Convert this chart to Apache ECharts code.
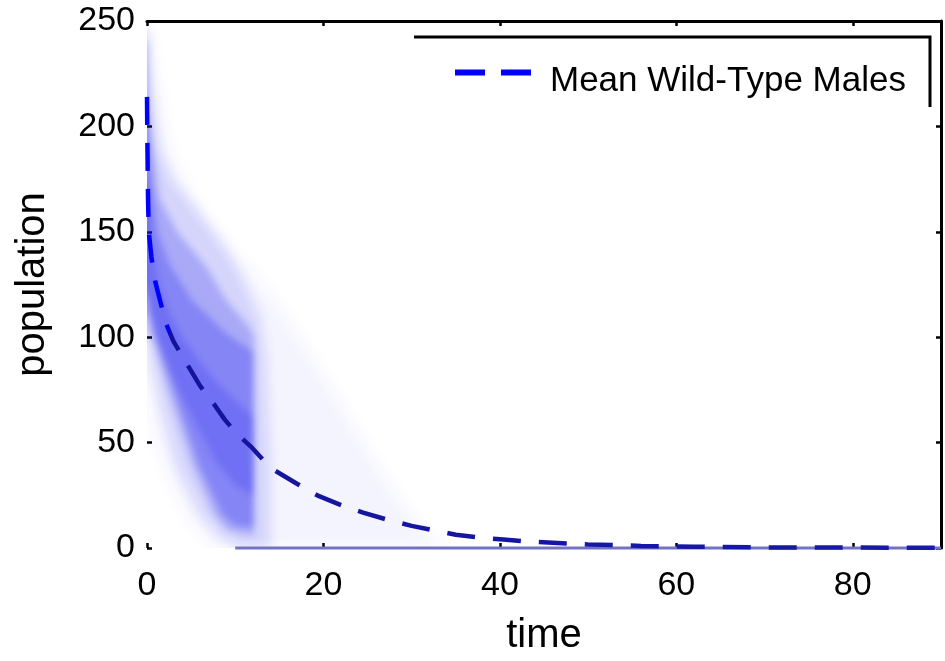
<!DOCTYPE html>
<html>
<head>
<meta charset="utf-8">
<script src="https://cdn.jsdelivr.net/npm/echarts@6/dist/echarts.min.js"></script>
<style>
html,body{margin:0;padding:0;background:#fff;}
#chart{width:945px;height:661px;}
</style>
</head>
<body>
<div id="chart"></div>
<script>
// ---- axis ticks ----
var X_MIN = 0, X_MAX = 90, X_STEP = 20;
var Y_MIN = 0, Y_MAX = 250, Y_STEP = 50;

// ---- mean wild-type males (time, population) ----
var MEAN_T = [0, 0.05, 0.12, 0.2, 0.5, 0.9, 1.5, 2.2, 3, 4, 5, 6, 7.3, 8.8, 10, 11.8, 14, 17, 19.3, 22.2, 24.5, 27.6, 30, 33, 35, 38, 40.4, 43.4, 50, 56, 62, 70, 80, 90];
var MEAN_Y = [214, 190, 165, 150, 138, 127, 117, 106, 98, 91, 84, 77, 70, 61, 55, 48, 38, 30.5, 25, 20, 16.8, 13, 10.5, 8, 6.3, 4.8, 4, 3, 1.7, 1, 0.6, 0.3, 0.2, 0.1];

// ---- runs that have gone extinct (population 0) ----
var ZERO_T = [10, 90];
var ZERO_Y = [0, 0];

// ---- spread of the simulated runs: upper / lower edges of each density level ----
var L1_HIGH = [[0,250],[0.5,238],[1,225],[2,200],[3,184],[5,168],[7,155],[10,140],[12,131],[14,120],[16,108],[18,95],[20,82],[22,68],[24,54],[26,40],[28,27],[30,15],[32,6],[34,0]];
var L1_LOW  = [[0,80],[0.5,60],[1.5,45],[3,28],[5,12],[7,3],[8,0],[34,0]];
var L2_HIGH = [[0,246],[0.4,222],[1.4,190],[3,174],[5,164],[7.6,150],[10,135],[11.7,120],[12.8,110],[13.5,90],[14,40],[14,0]];
var L2_LOW  = [[0,100],[1.3,71],[3.3,39],[6,16],[8,6],[9.5,2],[10.5,0],[14,0]];
var L3_HIGH = [[0,240],[0.3,202],[1.4,166],[3.4,150],[5,142],[6.8,133],[8.9,118],[11.7,104],[12.1,100],[12.1,6]];
var L3_LOW  = [[0,110],[0.4,102],[2.7,71],[5.2,39],[7.6,16],[9,9],[10.5,7],[12.1,6]];
var L4_HIGH = [[0,205],[0.5,175],[1.2,150],[2.5,135],[5,118],[8.9,102],[12,93],[12.1,10]];
var L4_LOW  = [[0,120],[0.9,102],[3.4,71],[6,39],[8.6,16],[10,11],[12.1,10]];
var L5_HIGH = [[0,175],[0.5,145],[1.2,128],[2.5,112],[4,100],[6,88],[8,78],[10,70],[12,62]];
var L5_LOW  = [[0,125],[0.5,112],[1.2,100],[2.5,86],[4,72],[6,56],[8,40],[10,30],[12,25]];

var LEVELS = [
  {high: L1_HIGH, low: L1_LOW, alpha: 0.05, blur: 16},
  {high: L2_HIGH, low: L2_LOW, alpha: 0.14, blur: 12},
  {high: L3_HIGH, low: L3_LOW, alpha: 0.24, blur: 7},
  {high: L4_HIGH, low: L4_LOW, alpha: 0.26, blur: 6},
  {high: L5_HIGH, low: L5_LOW, alpha: 0.2, blur: 6}
];

function zip(a, b) { return a.map(function (v, i) { return [v, b[i]]; }); }

var FONT = "'Liberation Sans', Arial, Helvetica, sans-serif";
var SHIFT = 4000; // shapes are painted off-canvas; only their soft shadow lands in the plot
var EDGE_PAD = 24; // px the blurred shapes run past the left frame (clipped there)
var chart = echarts.init(document.getElementById('chart'), null, {renderer: 'canvas'});

var axisCommon = {
  type: 'value',
  splitLine: {show: false},
  axisTick: {show: true, inside: true, length: 5, lineStyle: {color: '#000', width: 2.5}},
  axisLabel: {color: '#000', fontSize: 34, fontFamily: FONT}
};

chart.setOption({
  animation: false,
  backgroundColor: '#fff',
  grid: {left: 147, right: 4, top: 21, bottom: 111, containLabel: false},
  xAxis: [
    Object.assign({}, axisCommon, {
      min: X_MIN, max: X_MAX, interval: X_STEP, position: 'bottom',
      axisLine: {show: false, onZero: false},
      axisLabel: Object.assign({}, axisCommon.axisLabel, {margin: 21, showMaxLabel: false}),
      name: 'time', nameLocation: 'middle', nameGap: 68,
      nameTextStyle: {color: '#000', fontSize: 40, fontFamily: FONT}
    }),
    Object.assign({}, axisCommon, {
      min: X_MIN, max: X_MAX, interval: X_STEP, position: 'top',
      axisLine: {show: true, onZero: false, lineStyle: {color: '#000', width: 3}},
      axisLabel: {show: false}
    })
  ],
  yAxis: [
    Object.assign({}, axisCommon, {
      min: Y_MIN, max: Y_MAX, interval: Y_STEP, position: 'left',
      axisLine: {show: false, onZero: false},
      axisLabel: Object.assign({}, axisCommon.axisLabel, {margin: 12, padding: [6, 0, 0, 0]}),
      name: 'population', nameLocation: 'middle', nameGap: 94,
      nameTextStyle: {color: '#000', fontSize: 40, fontFamily: FONT}
    }),
    Object.assign({}, axisCommon, {
      min: Y_MIN, max: Y_MAX, interval: Y_STEP, position: 'right',
      axisLine: {show: true, onZero: false, lineStyle: {color: '#000', width: 3}},
      axisLabel: {show: false}
    })
  ],
  legend: {
    data: [{
      name: 'Mean Wild-Type Males',
      lineStyle: {color: '#0000ff', width: 6, type: [30, 16]},
      itemStyle: {color: 'rgba(0,0,0,0)', borderWidth: 0, opacity: 0}
    }],
    left: 452, top: 64, padding: 0,
    itemWidth: 76, itemHeight: 14,
    selectedMode: false,
    formatter: '{t|{name}}',
    textStyle: {
      color: '#000', fontSize: 35, fontFamily: FONT,
      rich: {t: {color: '#000', fontSize: 35, fontFamily: FONT, padding: [18, 0, 0, 14]}}
    }
  },
  graphic: [
    {type: 'polyline', silent: true, z: 100,
     shape: {points: [[414, 37], [930, 37], [930, 107]]},
     style: {stroke: '#000', lineWidth: 3, fill: null}}
  ],
  series: [
    {
      type: 'custom', name: 'runs', silent: true, z: 1, clip: true,
      xAxisIndex: 0, yAxisIndex: 0,
      data: LEVELS.map(function () { return [0, 0]; }),
      renderItem: function (params, api) {
        var lv = LEVELS[params.dataIndex];
        var up = lv.high.map(function (d) { return api.coord(d); });
        var lo = lv.low.map(function (d) { return api.coord(d); }).reverse();
        var pts = [[up[0][0] - EDGE_PAD, up[0][1]]].concat(up, lo, [[lo[lo.length - 1][0] - EDGE_PAD, lo[lo.length - 1][1]]]);
        pts = pts.map(function (p) { return [p[0] + SHIFT, p[1]]; });
        return {
          type: 'polygon', shape: {points: pts},
          style: {
            fill: 'rgb(30,30,240)', stroke: null,
            shadowColor: 'rgba(30,30,240,' + lv.alpha + ')',
            shadowBlur: lv.blur, shadowOffsetX: -SHIFT, shadowOffsetY: 0
          }
        };
      }
    },
    {
      type: 'line', name: 'extinct', silent: true, z: 2, clip: false,
      data: zip(ZERO_T, ZERO_Y), symbol: 'none',
      lineStyle: {color: '#7373c2', width: 3}
    },
    {
      type: 'line', name: 'Mean Wild-Type Males', z: 3, clip: false,
      data: zip(MEAN_T, MEAN_Y), symbol: 'none', showSymbol: false,
      color: '#0000ff',
      lineStyle: {
        width: 4.5, type: [28, 18], cap: 'butt',
        color: new echarts.graphic.LinearGradient(0, 0, 1, 0, [
          {offset: 0, color: '#0000ff'},
          {offset: 0.028, color: '#0000ff'},
          {offset: 0.034, color: '#14149a'},
          {offset: 0.6, color: '#1616a8'},
          {offset: 1, color: '#1a1aa8'}
        ])
      }
    }
  ]
});
</script>
</body>
</html>
